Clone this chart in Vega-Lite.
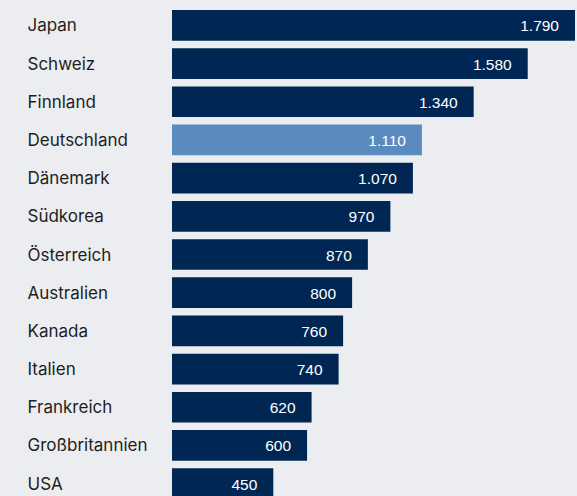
{
  "$schema": "https://vega.github.io/schema/vega-lite/v6.json",
  "width": 403,
  "height": 509,
  "autosize": {"type": "none"},
  "padding": {"left": 172, "top": 0, "right": 2, "bottom": 0},
  "background": "#ecedf0",
  "data": {
    "values": [
      {"land": "Japan", "wert": 1790, "hl": "n"},
      {"land": "Schweiz", "wert": 1580, "hl": "n"},
      {"land": "Finnland", "wert": 1340, "hl": "n"},
      {"land": "Deutschland", "wert": 1110, "hl": "y"},
      {"land": "Dänemark", "wert": 1070, "hl": "n"},
      {"land": "Südkorea", "wert": 970, "hl": "n"},
      {"land": "Österreich", "wert": 870, "hl": "n"},
      {"land": "Australien", "wert": 800, "hl": "n"},
      {"land": "Kanada", "wert": 760, "hl": "n"},
      {"land": "Italien", "wert": 740, "hl": "n"},
      {"land": "Frankreich", "wert": 620, "hl": "n"},
      {"land": "Großbritannien", "wert": 600, "hl": "n"},
      {"land": "USA", "wert": 450, "hl": "n"}
    ]
  },
  "encoding": {
    "y": {
      "field": "land", "type": "nominal", "sort": null,
      "scale": {"paddingInner": 0.196, "paddingOuter": 0.262},
      "axis": {
        "title": null, "domain": false, "ticks": false, "tickSize": 0,
        "labelAlign": "left", "labelPadding": 145, "labelFontSize": 17,
        "labelFont": "Inter", "labelColor": "#1e1e1e", "labelLimit": 200, "labelOffset": 1
      }
    },
    "x": {
      "field": "wert", "type": "quantitative",
      "scale": {"domain": [0, 1790], "nice": false},
      "axis": null
    }
  },
  "layer": [
    {
      "mark": {"type": "bar"},
      "encoding": {
        "color": {
          "field": "hl", "type": "nominal",
          "scale": {"domain": ["n", "y"], "range": ["#002753", "#5a8abe"]},
          "legend": null
        }
      }
    },
    {
      "mark": {"type": "text", "align": "right", "baseline": "middle", "dx": -16, "dy": 1, "color": "white", "fontSize": 15.5, "letterSpacing": 0.5, "font": "Liberation Sans"},
      "encoding": {
        "text": {"field": "wert", "type": "quantitative", "format": ",.0f"}
      }
    }
  ],
  "config": {
    "view": {"stroke": null},
    "locale": {"number": {"decimal": ",", "thousands": ".", "grouping": [3], "currency": ["", " €"]}}
  }
}
